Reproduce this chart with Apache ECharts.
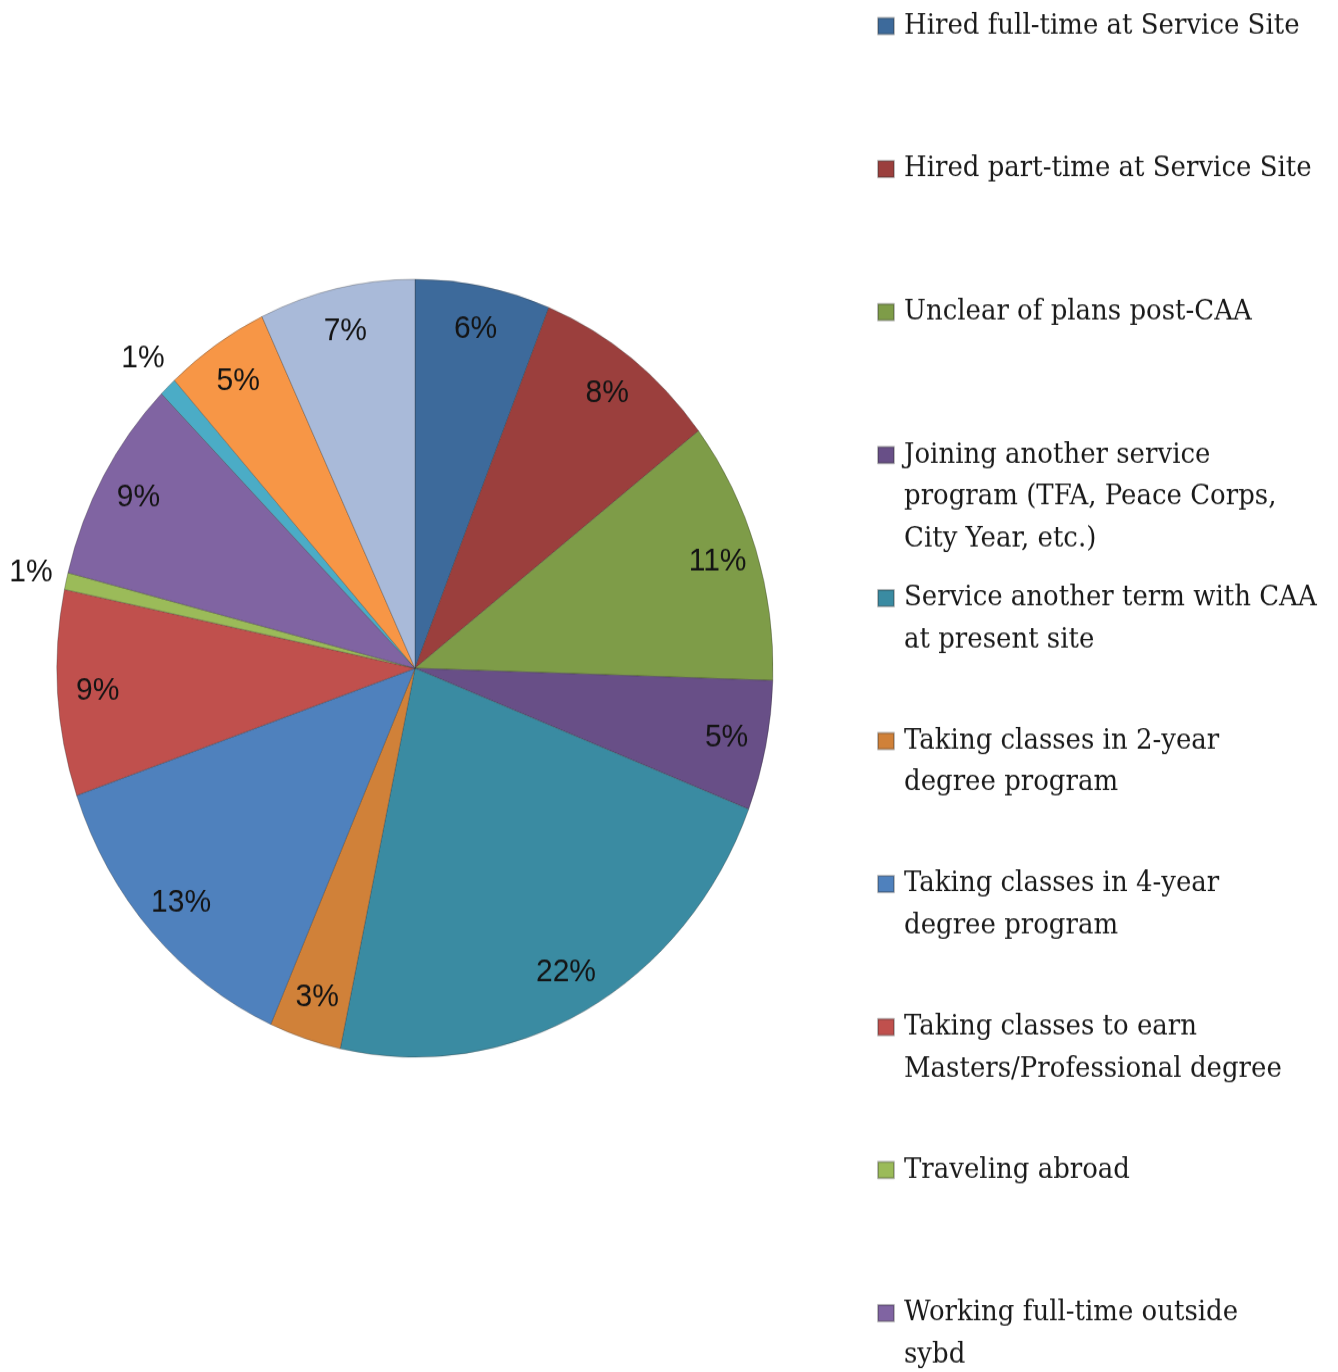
<!DOCTYPE html>
<html>
<head>
<meta charset="utf-8">
<script src="https://cdn.jsdelivr.net/npm/echarts@6/dist/echarts.min.js"></script>
<style>
  html, body { margin: 0; padding: 0; background: #fff; width: 1338px; height: 1372px; overflow: hidden; }
  /* the source picture is stretched vertically, so the chart is too;
     the last legend entry runs past the bottom edge as in the picture */
  #main { width: 1338px; height: 1320px; transform: scaleY(1.0866); transform-origin: 0 0; }
</style>
</head>
<body>
<div id="main"></div>
<script>
// slices, clockwise from 12 o'clock
var categories = [
  'Hired full-time at Service Site',
  'Hired part-time at Service Site',
  'Unclear of plans post-CAA',
  'Joining another service\nprogram (TFA, Peace Corps,\nCity Year, etc.)',
  'Service another term with CAA\nat present site',
  'Taking classes in 2-year\ndegree program',
  'Taking classes in 4-year\ndegree program',
  'Taking classes to earn\nMasters/Professional degree',
  'Traveling abroad',
  'Working full-time outside\nsybd',
  'Other (11)',
  'Other (12)',
  'Other (13)'
];

// percent (labels show them rounded)
var values = [6.1, 8.45, 10.95, 5.4, 22.45, 3.25, 13.1, 8.55, 0.7, 8.52, 0.8, 4.7, 7.03];

var colors = [
  '#3d6a9b', '#9b3f3d', '#7e9c48', '#684f87', '#3a8ba2', '#d08139',
  '#4f81bd', '#c0504d', '#9bbb59', '#8064a2', '#4bacc6', '#f79646', '#a9bad9'
];

// only the first 10 legend entries fit in the picture
var legendCount = 10;

var cx = 415, cy = 615, r = 358;
var lineH = 38.6;

var myChart = echarts.init(document.getElementById('main'));

// transparent ring used only to place the % labels at a given radius
function labelRing(inner, outer, showIt) {
  return {
    type: 'pie',
    center: [cx, cy],
    radius: [inner, outer],
    startAngle: 90,
    clockwise: true,
    silent: true,
    avoidLabelOverlap: false,
    emphasis: { disabled: true },
    itemStyle: { color: 'transparent', borderWidth: 0 },
    labelLine: { show: false },
    label: {
      position: 'inside',
      formatter: function (p) { return Math.round(p.percent) + '%'; },
      fontFamily: 'Liberation Sans',
      fontSize: 30,
      color: '#141414'
    },
    data: categories.map(function (name, i) {
      return { name: name, value: values[i], label: { show: showIt(values[i]) } };
    })
  };
}

// one legend per entry so the entries sit at an even step;
// blank lines above the text put the icon beside the first line
var legends = categories.slice(0, legendCount).map(function (name, i) {
  var lines = name.split('\n').length;
  var iconY = 24 + i * 131.6;
  return {
    left: 877,
    top: iconY - (2 * lines - 1) * lineH / 2,
    orient: 'horizontal',
    padding: 0,
    icon: 'rect',
    itemWidth: 16,
    itemHeight: 15,
    selectedMode: false,
    formatter: function (n) {
      return new Array(lines).join('\n') + n;
    },
    textStyle: {
      fontFamily: 'DejaVu Serif',
      fontSize: 26,
      lineHeight: lineH,
      color: '#1a1a1a',
      padding: [0, 0, 0, 5]
    },
    data: [name]
  };
});

var option = {
  animation: false,
  backgroundColor: '#fff',
  color: colors,
  legend: legends,
  series: [
    {
      type: 'pie',
      center: [cx, cy],
      radius: r,
      startAngle: 90,
      clockwise: true,
      emphasis: { disabled: true },
      itemStyle: { borderColor: 'rgba(40,40,40,0.3)', borderWidth: 1 },
      label: { show: false },
      labelLine: { show: false },
      data: categories.map(function (name, i) {
        return { name: name, value: values[i] };
      })
    },
    labelRing(272, 358, function (v) { return v >= 1; }),
    labelRing(382, 400, function (v) { return v < 1; })
  ]
};

myChart.setOption(option);
</script>
</body>
</html>
